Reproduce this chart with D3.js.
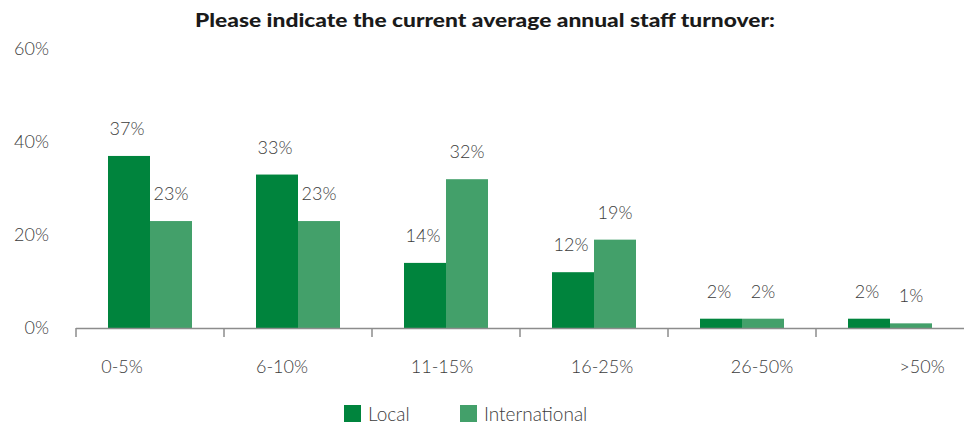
<!DOCTYPE html>
<html>
<head>
<meta charset="utf-8">
<script src="https://cdn.jsdelivr.net/npm/d3@7"></script>
<style>
  body { margin: 0; background: #fff; }
  text { font-family: "Lato", "Open Sans", sans-serif; font-weight: 300; fill: #3c3c3c; }
</style>
</head>
<body>
<svg id="chart" width="964" height="426"></svg>
<script>
// Turnover bands and survey shares (%)
const categories = ["0-5%", "6-10%", "11-15%", "16-25%", "26-50%", ">50%"];
const seriesNames = ["Local", "International"];
const localValues = [37, 33, 14, 12, 2, 2];
const internationalValues = [23, 23, 32, 19, 2, 1];
const yTicks = [0, 20, 40, 60];
const colors = ["#00843d", "#43a06a"];

const svg = d3.select("#chart");
const plot = { left: 76, right: 964, top: 49, bottom: 328 };

const data = categories.map((c, i) => ({
  cat: c,
  values: [localValues[i], internationalValues[i]]
}));

// Title
svg.append("text")
  .attr("x", 195).attr("y", 27)
  .attr("textLength", 580).attr("lengthAdjust", "spacingAndGlyphs")
  .style("font-weight", "900").style("font-size", "18px")
  .style("fill", "#1a1a1a")
  .text("Please indicate the current average annual staff turnover:");

const x = d3.scaleBand().domain(categories)
  .range([plot.left, plot.right]).paddingInner(0).paddingOuter(0);
const xs = d3.scaleBand().domain(seriesNames).range([0, 84]);
const y = d3.scaleLinear().domain([0, 60]).range([plot.bottom, plot.top]);

// Category label positions
const xLabel = d3.scalePoint().domain(categories).range([122, 922]);

// Y axis tick labels
svg.append("g").selectAll("text").data(yTicks).join("text")
  .attr("x", 49).attr("y", d => y(d) + 6)
  .attr("text-anchor", "end")
  .style("font-size", "18px")
  .text(d => d + "%");

// Bars
const groups = svg.append("g").selectAll("g").data(data).join("g")
  .attr("transform", d => `translate(${x(d.cat) + (x.bandwidth() - 84) / 2},0)`);

groups.selectAll("rect").data(d => d.values.map((v, i) => ({ v, s: seriesNames[i], i })))
  .join("rect")
  .attr("x", d => xs(d.s))
  .attr("width", xs.bandwidth())
  .attr("y", d => y(d.v))
  .attr("height", d => plot.bottom - y(d.v))
  .attr("fill", d => colors[d.i]);

// Value labels
groups.selectAll("text.val").data(d => d.values.map((v, i) => ({ v, s: seriesNames[i], i })))
  .join("text").attr("class", "val")
  .attr("x", d => xs(d.s) + xs.bandwidth() / 2 - (d.i === 0 ? 2 : 0))
  .attr("y", d => y(d.v) - 21)
  .attr("text-anchor", "middle")
  .style("font-size", "18px")
  .text(d => d.v + "%");

// Category axis
const axis = svg.append("g");
axis.append("line")
  .attr("x1", plot.left).attr("x2", plot.right)
  .attr("y1", plot.bottom + 0.5).attr("y2", plot.bottom + 0.5)
  .attr("stroke", "#8c8c8c").attr("stroke-width", 1.5);
axis.selectAll("line.tick").data(categories).join("line")
  .attr("class", "tick")
  .attr("x1", d => x(d)).attr("x2", d => x(d))
  .attr("y1", plot.bottom).attr("y2", plot.bottom + 9)
  .attr("stroke", "#8c8c8c").attr("stroke-width", 1.5);

axis.selectAll("text").data(categories).join("text")
  .attr("x", d => xLabel(d)).attr("y", 373)
  .attr("text-anchor", "middle")
  .style("font-size", "18px")
  .text(d => d);

// Legend
const legendX = [344, 460];
const legend = svg.append("g").selectAll("g").data(seriesNames).join("g")
  .attr("transform", (d, i) => `translate(${legendX[i]},405)`);
legend.append("rect").attr("width", 17).attr("height", 17)
  .attr("fill", (d, i) => colors[i]);
legend.append("text").attr("x", 24).attr("y", 16)
  .style("font-size", "19px")
  .text(d => d);
</script>
</body>
</html>
